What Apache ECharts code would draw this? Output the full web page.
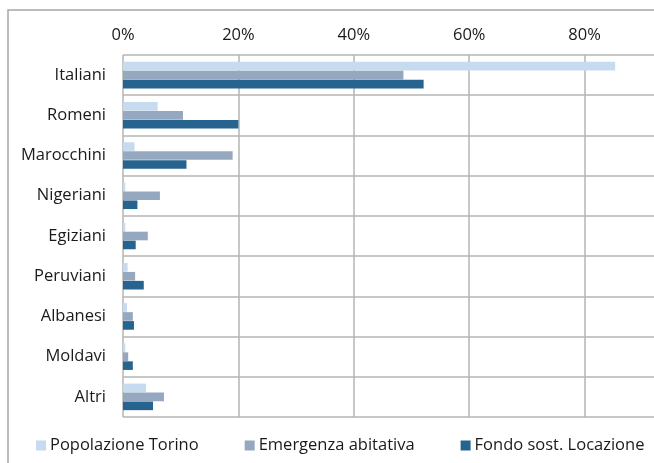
<!DOCTYPE html>
<html>
<head>
<meta charset="utf-8">
<script src="https://cdn.jsdelivr.net/npm/echarts@6/dist/echarts.min.js"></script>
<style>
  html, body { margin: 0; padding: 0; background: #fff; }
  #chart { width: 654px; height: 463px; }
</style>
</head>
<body>
<div id="chart"></div>
<script>
const categories = ['Italiani', 'Romeni', 'Marocchini', 'Nigeriani', 'Egiziani', 'Peruviani', 'Albanesi', 'Moldavi', 'Altri']
const popolazioneTorino = [85.3, 6.0, 2.0, 0.4, 0.4, 0.8, 0.7, 0.4, 4.0]
const emergenzaAbitativa = [48.6, 10.4, 19.0, 6.4, 4.3, 2.1, 1.7, 0.9, 7.1]
const fondoSostLocazione = [52.1, 20.0, 11.0, 2.5, 2.2, 3.6, 1.9, 1.7, 5.2]

const FONT = 'Open Sans'
const FS = 16.5
const chart = echarts.init(document.getElementById('chart'))

const option = {
  animation: false,
  textStyle: { fontFamily: FONT },
  graphic: [
    {
      type: 'rect',
      shape: { x: 8, y: 10, width: 900, height: 700 },
      style: { fill: 'none', stroke: '#a6a6a6', lineWidth: 1.5 },
      silent: true
    }
  ],
  legend: {
    left: 31,
    top: 432,
    itemWidth: 10,
    itemHeight: 10,
    itemGap: 46,
    icon: 'rect',
    textStyle: { fontFamily: FONT, fontSize: FS, color: '#1a1a1a', padding: [0, 0, 0, -1] },
    data: ['Popolazione Torino', 'Emergenza abitativa', 'Fondo sost. Locazione']
  },
  grid: {
    left: 123,
    right: -46,
    top: 55,
    bottom: 46,
    outerBoundsMode: 'none'
  },
  xAxis: {
    type: 'value',
    position: 'top',
    min: 0,
    max: 100,
    interval: 20,
    axisLine: { show: false },
    axisTick: { show: false },
    axisLabel: {
      formatter: '{value}%',
      color: '#1a1a1a',
      fontFamily: FONT,
      fontSize: FS,
      margin: 11
    },
    splitLine: { lineStyle: { color: '#b5b5b5', width: 1.5 } }
  },
  yAxis: {
    type: 'category',
    inverse: true,
    data: categories,
    axisLine: { show: false },
    axisTick: { show: false },
    axisLabel: {
      color: '#1a1a1a',
      fontFamily: FONT,
      fontSize: FS,
      margin: 17
    },
    splitLine: { show: true, lineStyle: { color: '#b5b5b5', width: 1.5 } }
  },
  series: [
    {
      name: 'Popolazione Torino',
      type: 'bar',
      barGap: '4%',
      barCategoryGap: '34%',
      itemStyle: { color: '#c6dbef' },
      data: popolazioneTorino
    },
    {
      name: 'Emergenza abitativa',
      type: 'bar',
      itemStyle: { color: '#95a8c0' },
      data: emergenzaAbitativa
    },
    {
      name: 'Fondo sost. Locazione',
      type: 'bar',
      itemStyle: { color: '#26638f' },
      data: fondoSostLocazione
    }
  ]
}

chart.setOption(option)
</script>
</body>
</html>
